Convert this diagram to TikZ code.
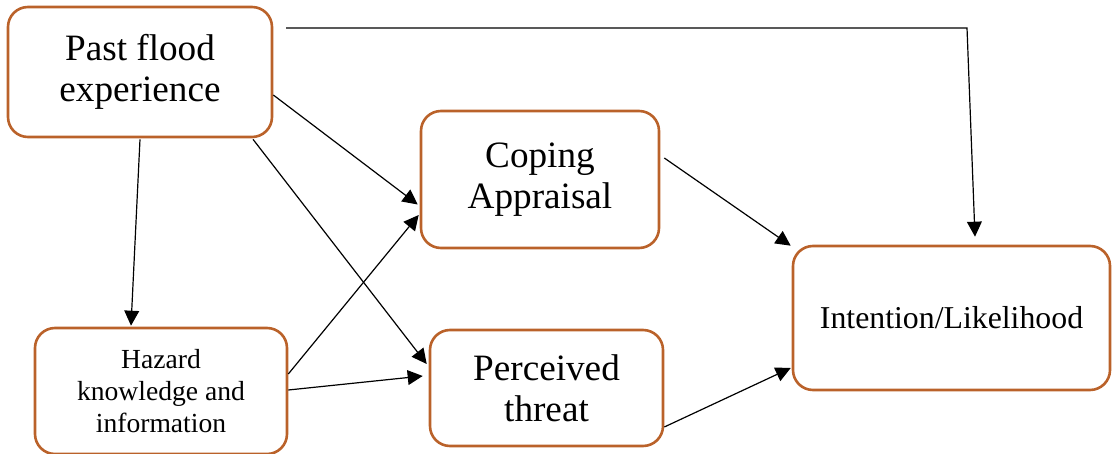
\documentclass[tikz,border=0pt]{standalone}
\usepackage{fontspec}
\setmainfont{Liberation Serif}
\usepackage{xcolor}
\usetikzlibrary{positioning,calc,arrows.meta}
\definecolor{boxline}{RGB}{186,98,42}

\begin{document}
\begin{tikzpicture}[
  x=0.5pt, y=-0.5pt,
  box/.style={draw=boxline, line width=1.3pt, rounded corners=10pt, align=center,
              inner sep=0pt},
  big/.style={font=\fontsize{18.6}{20.5}\selectfont},
  ar/.style={-{Triangle[length=7.5pt,width=7.4pt]}, line width=0.6pt}]
\useasboundingbox (0,0) rectangle (1112,454);
\node[box, big, minimum width=132pt, minimum height=65pt] (pf) at (140,72) {Past flood\\experience};
\node[box, big, minimum width=119pt, minimum height=68.5pt] (coping) at (540,179.5) {Coping\\Appraisal};
\node[box, font=\fontsize{13.8}{16}\selectfont, minimum width=126pt, minimum height=63pt] (hazard) at (161,391) {Hazard\\knowledge and\\information};
\node[box, big, minimum width=116.5pt, minimum height=58pt] (threat) at (546.5,388) {Perceived\\threat};
\node[box, font=\fontsize{15.9}{18}\selectfont, minimum width=158.5pt, minimum height=72pt] (intent) at (951.5,318) {Intention/Likelihood};
% direct path from experience to intention
\coordinate (start) at (286,28);
\coordinate (turn) at (967,28);
\draw[ar] (start) -- (turn) -- ($(intent.north)+(23.5,-8)$);
\draw[ar] ($(pf.east)+(0,23)$) -- ($(coping.west)+(-2,25)$);
\draw[ar] ($(pf.south)+(113,1)$) -- ($(threat.west)+(-2,-24)$);
\draw[ar] ($(pf.south)+(0,1)$) -- ($(hazard.north)+(-30,-1)$);
\draw[ar] ($(hazard.east)+(0,-17)$) -- ($(coping.west)+(-1,35.5)$);
\draw[ar] ($(hazard.east)+(0,-1)$) -- ($(threat.west)+(-6,-12)$);
\draw[ar] ($(coping.east)+(4,-21.5)$) -- ($(intent.north west)+(-1,1)$);
\draw[ar] ($(threat.east)+(0,39)$) -- ($(intent.west)+(-1,50)$);
\end{tikzpicture}
\end{document}
